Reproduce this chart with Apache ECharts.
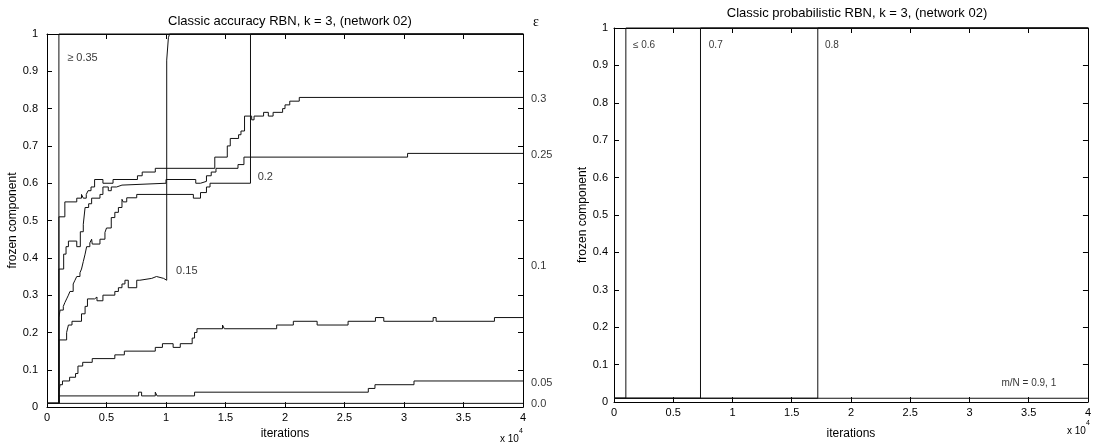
<!DOCTYPE html>
<html>
<head>
<meta charset="utf-8">
<script src="https://cdn.jsdelivr.net/npm/echarts@6/dist/echarts.min.js"></script>
<style>
html,body{margin:0;padding:0;background:#fff;}
#chart{width:1094px;height:445px;}
</style>
</head>
<body>
<div id="chart"></div>
<script>
// ---- Data (x in units of 10^4 iterations, y = frozen component) ----
// Left panel: Classic accuracy RBN, one series per epsilon
const accEps035 = [[0,0.01],[0.1,1],[4,1]];
const accEps030 = [[0,0.01],[0.1,0.51],[0.15,0.55],[0.25,0.56],[0.29,0.57],[0.305,0.56],[0.33,0.57],[0.345,0.58],[0.37,0.59],[0.4,0.61],[0.47,0.60],[0.555,0.61],[0.76,0.62],[0.80,0.63],[0.91,0.64],[1.41,0.67],[1.515,0.70],[1.54,0.72],[1.61,0.73],[1.63,0.74],[1.66,0.78],[1.72,0.77],[1.74,0.78],[1.82,0.79],[1.86,0.78],[1.9,0.79],[1.98,0.80],[2.0,0.81],[2.04,0.82],[2.12,0.83],[4,0.83]];
const accEps025 = [[0,0.01],[0.1,0.37],[0.14,0.41],[0.16,0.43],[0.18,0.445],[0.25,0.43],[0.28,0.47],[0.305,0.49],[0.32,0.535],[0.35,0.545],[0.375,0.56],[0.445,0.57],[0.47,0.59],[0.515,0.58],[0.54,0.59],[0.585,0.595],[0.63,0.60],[1.0,0.61],[1.25,0.60],[1.29,0.605],[1.34,0.62],[1.38,0.63],[1.42,0.64],[1.605,0.65],[1.655,0.67],[3.03,0.68],[4,0.68]];
const accEps020 = [[0,0.01],[0.1,0.24],[0.11,0.26],[0.137,0.27],[0.15,0.28],[0.165,0.29],[0.18,0.30],[0.193,0.31],[0.22,0.33],[0.235,0.34],[0.25,0.35],[0.277,0.36],[0.29,0.37],[0.305,0.39],[0.32,0.41],[0.333,0.43],[0.36,0.44],[0.375,0.45],[0.38,0.437],[0.445,0.45],[0.487,0.468],[0.5,0.48],[0.54,0.508],[0.57,0.522],[0.6,0.535],[0.63,0.557],[0.64,0.55],[0.67,0.561],[0.754,0.57],[1.23,0.56],[1.29,0.575],[1.34,0.59],[1.37,0.60],[1.71,1.0],[4,1.0]];
const accEps015 = [[0,0.01],[0.1,0.18],[0.165,0.20],[0.18,0.22],[0.21,0.23],[0.29,0.25],[0.32,0.27],[0.34,0.29],[0.40,0.295],[0.42,0.285],[0.47,0.30],[0.57,0.31],[0.6,0.32],[0.63,0.33],[0.655,0.34],[0.683,0.32],[0.754,0.34],[0.78,0.345],[0.88,0.35],[0.92,0.345],[0.98,0.34],[1.006,0.93],[1.02,0.99],[1.03,1.0],[4,1.0]];
const accEps010 = [[0,0.01],[0.1,0.04],[0.11,0.06],[0.13,0.07],[0.19,0.08],[0.24,0.09],[0.26,0.11],[0.3,0.12],[0.38,0.13],[0.57,0.14],[0.65,0.15],[0.91,0.16],[0.97,0.17],[1.06,0.16],[1.12,0.17],[1.22,0.185],[1.24,0.20],[1.26,0.21],[1.475,0.22],[1.49,0.21],[1.93,0.22],[2.07,0.23],[2.27,0.22],[2.53,0.23],[2.76,0.24],[2.83,0.23],[3.245,0.24],[3.27,0.23],[3.76,0.24],[4,0.24]];
const accEps005 = [[0,0.01],[0.1,0.03],[0.77,0.04],[0.795,0.03],[0.91,0.04],[0.925,0.03],[1.24,0.04],[2.70,0.05],[2.756,0.06],[3.084,0.07],[4,0.07]];
const accEps000 = [[0,0.01],[4,0.01]];

// Right panel: Classic probabilistic RBN, one series per m/N
const probM06 = [[0,0.01],[0.1,1],[4,1]];
const probM07 = [[0,0.01],[0.73,1],[4,1]];
const probM08 = [[0,0.01],[1.72,1],[4,1]];
const probM09 = [[0,0.01],[4,0.01]];

// Annotations [text, x, y] in data coordinates
const accInside = [['\u2265 0.35',0.17,0.935],['0.2',1.77,0.616],['0.15',1.085,0.365]];
const accRight = [['0.3',4,0.825],['0.25',4,0.677],['0.1',4,0.378],['0.05',4,0.064],['0.0',4,0.008]];
const probInside = [['\u2264 0.6',0.16,0.955],['0.7',0.8,0.955],['0.8',1.78,0.955],['m/N = 0.9, 1',3.27,0.05]];

const titles = ['Classic accuracy RBN, k = 3, (network 02)','Classic probabilistic RBN, k = 3, (network 02)'];

const FONT = '"Liberation Sans", Arial, Helvetica, sans-serif';
const chart = echarts.init(document.getElementById('chart'), null, {renderer:'canvas'});

const grids = [
  {left:47, top:34, width:476, height:375},
  {left:614, top:28, width:475, height:374}
];

function xAxes(gi, nameGap){
  const base = {type:'value', gridIndex:gi, min:0, max:4, interval:0.5,
    axisLine:{show:true, onZero:false, lineStyle:{color:'#000', width:1}},
    axisTick:{show:true, inside:true, length:5, lineStyle:{color:'#000'}},
    splitLine:{show:false}};
  return [
    Object.assign({}, base, {position:'bottom',
      axisLabel:{color:'#000', fontSize:11, fontFamily:FONT, margin:5, formatter:v=>String(+v.toFixed(2))},
      name:'iterations', nameLocation:'middle', nameGap:nameGap,
      nameTextStyle:{color:'#000', fontSize:12, fontFamily:FONT}}),
    Object.assign({}, base, {position:'top', axisLabel:{show:false}})
  ];
}
function yAxes(gi, margin, nameGap){
  const base = {type:'value', gridIndex:gi, min:0, max:1, interval:0.1,
    axisLine:{show:true, onZero:false, lineStyle:{color:'#000', width:1}},
    axisTick:{show:true, inside:true, length:5, lineStyle:{color:'#000'}},
    splitLine:{show:false}};
  return [
    Object.assign({}, base, {position:'left',
      axisLabel:{color:'#000', fontSize:11, fontFamily:FONT, margin:margin, formatter:v=>String(+v.toFixed(2))},
      name:'frozen component', nameLocation:'middle', nameGap:nameGap,
      nameTextStyle:{color:'#000', fontSize:12, fontFamily:FONT}}),
    Object.assign({}, base, {position:'right', axisLabel:{show:false}})
  ];
}

function lineSeries(data, xi, yi){
  return {type:'line', data:data, xAxisIndex:xi, yAxisIndex:yi, step:'end',
    showSymbol:false, symbol:'none', silent:true,
    lineStyle:{color:'#111', width:1}, clip:false};
}
function labelSeries(items, xi, yi, pos, dist, size){
  return {type:'scatter', xAxisIndex:xi, yAxisIndex:yi, symbolSize:0, silent:true, clip:false,
    data: items.map(a=>({value:[a[1],a[2]], name:a[0]})),
    label:{show:true, position:pos, distance:dist, formatter:p=>p.name,
      color:'#000', fontSize:size, fontFamily:FONT}};
}

const accSeries = [accEps035, accEps030, accEps025, accEps020, accEps015, accEps010, accEps005, accEps000];
const probSeries = [probM06, probM07, probM08, probM09];

const option = {
  animation:false,
  backgroundColor:'#fff',
  title:[
    {text:titles[0], left:285, top:10, textAlign:'center',
      textStyle:{color:'#000', fontSize:13, fontWeight:'normal', fontFamily:FONT}},
    {text:titles[1], left:852, top:2, textAlign:'center',
      textStyle:{color:'#000', fontSize:13, fontWeight:'normal', fontFamily:FONT}}
  ],
  grid:grids,
  xAxis:[].concat(xAxes(0,16), xAxes(1,26)),
  yAxis:[].concat(yAxes(0,9,27), yAxes(1,6,25)),
  series:[].concat(
    accSeries.map(d=>lineSeries(d,0,0)),
    probSeries.map(d=>lineSeries(d,2,2)),
    [labelSeries(accInside,0,0,'right',0,11),
     labelSeries(accRight,0,0,'right',8,11),
     labelSeries(probInside,2,2,'right',0,10)]
  ),
  graphic:[
    {type:'text', left:533, top:15, style:{text:'\u03b5', fill:'#000', font:'14px "Liberation Serif", "Times New Roman", serif'}},
    {type:'text', left:500, top:428, style:{text:'{a|x 10}{b|4}', fill:'#000',
      rich:{a:{fontSize:10, fontFamily:FONT, padding:[6,0,0,0]}, b:{fontSize:7, fontFamily:FONT, verticalAlign:'top'}}}},
    {type:'text', left:1067, top:420, style:{text:'{a|x 10}{b|4}', fill:'#000',
      rich:{a:{fontSize:10, fontFamily:FONT, padding:[6,0,0,0]}, b:{fontSize:7, fontFamily:FONT, verticalAlign:'top'}}}}
  ]
};
chart.setOption(option);
</script>
</body>
</html>
